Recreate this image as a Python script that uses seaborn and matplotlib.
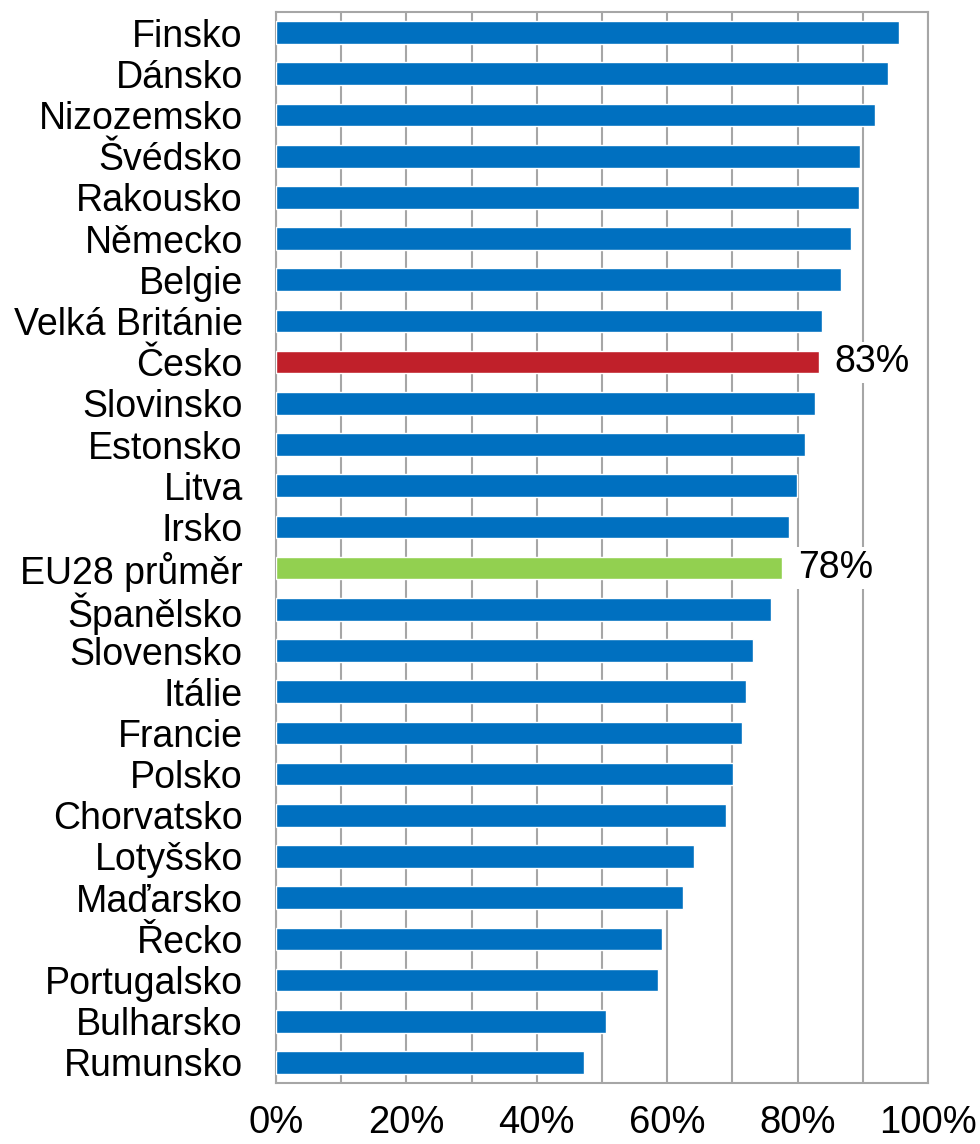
import matplotlib
matplotlib.use("Agg")
import matplotlib.pyplot as plt
import seaborn as sns
import numpy as np

countries = ["Finsko", "Dánsko", "Nizozemsko", "Švédsko", "Rakousko", "Německo",
             "Belgie", "Velká Británie", "Česko", "Slovinsko", "Estonsko", "Litva",
             "Irsko", "EU28 průměr", "Španělsko", "Slovensko", "Itálie", "Francie",
             "Polsko", "Chorvatsko", "Lotyšsko", "Maďarsko", "Řecko", "Portugalsko",
             "Bulharsko", "Rumunsko"]
values = [95.5, 93.9, 91.9, 89.6, 89.4, 88.2, 86.7, 83.8, 83.3, 82.7, 81.1, 79.9,
          78.7, 77.6, 75.9, 73.2, 72.1, 71.5, 70.1, 69.0, 64.1, 62.4, 59.2, 58.6,
          50.6, 47.2]
labelled = {"Česko": "83%", "EU28 průměr": "78%"}

BLUE, RED, GREEN = "#0070C0", "#C0202A", "#92D050"
GRID = "#A6A6A6"

colors = {c: BLUE for c in countries}
colors["Česko"] = RED
colors["EU28 průměr"] = GREEN

sns.set_style("white")
plt.rcParams["font.family"] = ["Liberation Sans", "DejaVu Sans"]
plt.rcParams["text.color"] = "black"
plt.rcParams["xtick.color"] = "black"
plt.rcParams["ytick.color"] = "black"

fig = plt.figure(figsize=(9.8, 11.44), dpi=100)
ax = fig.add_axes([0.2816, 0.0533, 0.947 - 0.2816, 0.9895 - 0.0533])

sns.barplot(x=values, y=countries, hue=countries, palette=colors, legend=False,
            width=0.55, orient="h", saturation=1, ax=ax, zorder=3)

ax.set_xlim(0, 100)
ax.set_ylim(25.5, -0.5)
ax.set_xticks(np.arange(0, 101, 20))
ax.set_xticks(np.arange(0, 101, 10), minor=True)
ax.set_xticklabels([f"{v}%" for v in range(0, 101, 20)])
ax.grid(axis="x", which="both", color=GRID, linewidth=1.5, zorder=0)
ax.set_axisbelow(True)
for s in ax.spines.values():
    s.set_color(GRID)
    s.set_linewidth(1.5)
ax.tick_params(axis="both", which="both", length=0)
ax.tick_params(axis="x", labelsize=27.5, pad=16)
ax.tick_params(axis="y", labelsize=27, pad=24)
ax.set_xlabel("")
ax.set_ylabel("")

for i, (c, v) in enumerate(zip(countries, values)):
    if c in labelled:
        ax.text(v + 2.4, i, labelled[c], va="center", ha="left", fontsize=27,
                bbox=dict(facecolor="white", edgecolor="none", pad=2), zorder=4)

fig.savefig("out.png", dpi=100)
